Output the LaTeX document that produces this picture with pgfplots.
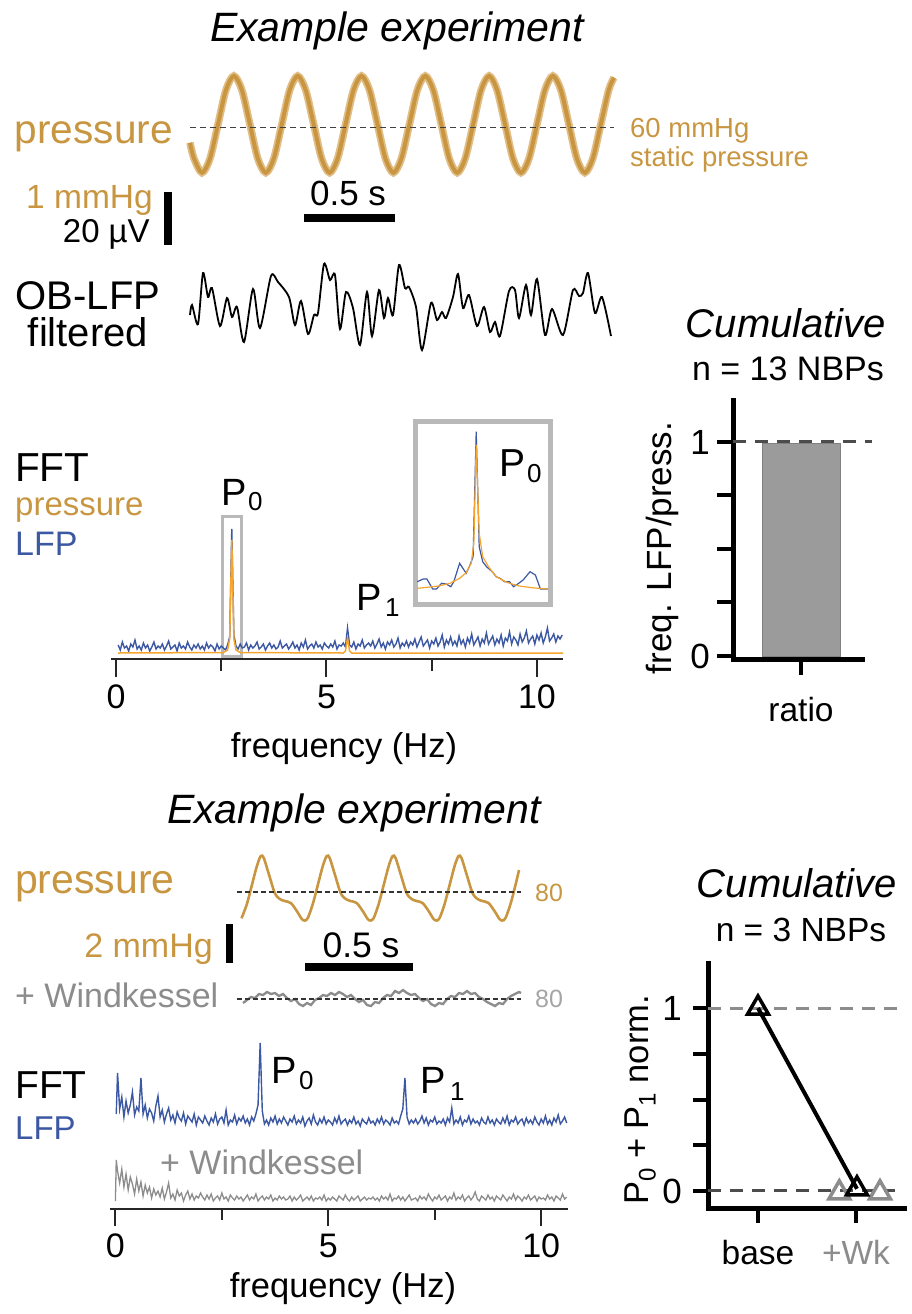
\documentclass[border=0pt]{standalone}
\usepackage{pgfplots}
\pgfplotsset{compat=1.18}
\usepackage{fontspec}
\setmainfont{Liberation Sans}
\definecolor{prtan}{RGB}{200,150,65}
\definecolor{prtanlight}{RGB}{225,190,135}
\definecolor{orng}{RGB}{245,165,45}
\definecolor{lfpblue}{RGB}{60,88,162}
\definecolor{wkgray}{RGB}{140,140,140}
\definecolor{wklight}{RGB}{165,165,165}
\definecolor{boxgray}{RGB}{185,185,185}
\definecolor{bargray}{RGB}{155,155,155}
\newcommand{\fs}[1]{\fontsize{#1}{#1}\selectfont}
\tikzset{lbl/.style={inner sep=0pt, anchor=base west}}
\pgfplotsset{/pgf/number format/assume math mode=true}
\begin{document}
\begin{tikzpicture}
\useasboundingbox (0,0) rectangle (912pt,-1314pt);

% ---------- overlay axis in pixel units (traces, scale bars, inset) ----------
\begin{axis}[at={(0pt,-1314pt)}, anchor=south west, width=912pt, height=1314pt,
  scale only axis, xmin=0, xmax=912, ymin=0, ymax=1314, y dir=reverse,
  hide axis, clip=false]
% top pressure trace
\addplot[prtanlight, line width=7.5pt, smooth] coordinates {
(190,142.7)(194.0,158.5)(202,172.7)(210.0,158.5)(218.0,124.3)(225.9,90.1)(233.9,75.9)(241.9,90.1)(249.9,124.3)(257.8,158.5)
(265.8,172.7)(273.8,158.5)(281.8,124.3)(289.7,90.1)(297.7,75.9)(305.7,90.1)(313.7,124.3)(321.6,158.5)
(329.6,172.7)(337.6,158.5)(345.6,124.3)(353.5,90.1)(361.5,75.9)(369.5,90.1)(377.5,124.3)(385.4,158.5)
(393.4,172.7)(401.4,158.5)(409.4,124.3)(417.3,90.1)(425.3,75.9)(433.3,90.1)(441.3,124.3)(449.2,158.5)
(457.2,172.7)(465.2,158.5)(473.2,124.3)(481.1,90.1)(489.1,75.9)(497.1,90.1)(505.1,124.3)(513.0,158.5)
(521.0,172.7)(529.0,158.5)(537.0,124.3)(544.9,90.1)(552.9,75.9)(560.9,90.1)(568.9,124.3)(576.8,158.5)
(584.8,172.7)(592.8,158.5)(600.8,124.3)(608.7,90.1)(614,77.6)};
\addplot[prtan, line width=4pt, smooth] coordinates {
(190,142.7)(194.0,158.5)(202,172.7)(210.0,158.5)(218.0,124.3)(225.9,90.1)(233.9,75.9)(241.9,90.1)(249.9,124.3)(257.8,158.5)
(265.8,172.7)(273.8,158.5)(281.8,124.3)(289.7,90.1)(297.7,75.9)(305.7,90.1)(313.7,124.3)(321.6,158.5)
(329.6,172.7)(337.6,158.5)(345.6,124.3)(353.5,90.1)(361.5,75.9)(369.5,90.1)(377.5,124.3)(385.4,158.5)
(393.4,172.7)(401.4,158.5)(409.4,124.3)(417.3,90.1)(425.3,75.9)(433.3,90.1)(441.3,124.3)(449.2,158.5)
(457.2,172.7)(465.2,158.5)(473.2,124.3)(481.1,90.1)(489.1,75.9)(497.1,90.1)(505.1,124.3)(513.0,158.5)
(521.0,172.7)(529.0,158.5)(537.0,124.3)(544.9,90.1)(552.9,75.9)(560.9,90.1)(568.9,124.3)(576.8,158.5)
(584.8,172.7)(592.8,158.5)(600.8,124.3)(608.7,90.1)(614,77.6)};
\addplot[black!75, line width=1.5pt, dash pattern=on 6pt off 4pt] coordinates {(190,127.5)(614,127.5)};
% scale bars top
\addplot[black, line width=8pt] coordinates {(167.5,192)(167.5,245)};
\addplot[black, line width=8pt] coordinates {(304,218)(395,218)};
% OB-LFP filtered trace
\addplot[black, line width=1.8pt, smooth, tension=0.45] coordinates {
(190,315)(192,305)(198,324)(203,273)(208,297)(212,288)(220,326)(227,298)(232,317)(237,307)
(244,342)(253,289)(260,328)(271,276)(278,282)(289,297)(295,325)(301,301)(308,334)(314,315)
(318,313)(324,264)(330,280)(335,275)(340,329)(346,292)(353,308)(360,345)(367,292)(372,336)
(379,290)(384,318)(388,298)(393,315)(399,265)(405,288)(409,287)(416,307)(422,350)(431,303)
(437,320)(442,312)(446,318)(453,297)(458,274)(463,308)(469,295)(477,326)(484,307)(490,332)
(495,322)(500,336)(509,291)(515,290)(519,318)(526,285)(531,315)(537,279)(545,335)(552,309)
(563,335)(573,290)(579,296)(583,293)(588,273)(595,313)(602,297)(611,336)};
% inset box and curves
\draw[boxgray, line width=5pt] (axis cs:415,421) rectangle (axis cs:550,604);
\addplot[lfpblue, line width=1.2pt] coordinates {
(417.3,581.7)(423.1,579)(426.9,579)(432.7,589)(436.5,589)(441.5,583.3)(446.2,584)(450.8,586.7)
(453.8,581.7)(459.6,563.3)(466.2,573.3)(470,565)(473.1,556.7)(476.2,431.7)(479.2,546.7)(482.7,561.7)
(486.5,566.7)(492.3,571.7)(496.2,576.7)(500,578.3)(504.6,581.7)(509.6,581.7)(513.5,586.7)(517.3,584.3)
(523.1,580)(530,571.7)(535.4,575)(540.4,589)(548.1,589)};
\addplot[orng, line width=1.2pt] coordinates {
(417.3,588.3)(426.9,587.3)(438.5,586)(450,583.3)(459.6,578.3)(466.2,572.7)(471.2,563.3)(473.8,543.3)
(476.2,445)(479.2,533.3)(482.7,556.7)(488.5,566.7)(496.2,576.7)(507.7,582.7)(519.2,586)(534.6,588)(548.1,589)};
% bottom pressure trace
\addplot[prtan, line width=2.6pt, smooth, tension=0.5] coordinates {
(241.5,918.3)(246.9,904)(251.9,885)(256.9,866)
(260.8,856)(263.8,858)(268.8,874)(274.8,893)(279.8,899)(284.8,901)(290.8,903)(296.8,911)(301.8,919)(304.8,920.5)(307.8,918)(312.8,904)(317.8,885)(322.8,866)
(326.7,856)(329.7,858)(334.7,874)(340.7,893)(345.7,899)(350.7,901)(356.7,903)(362.7,911)(367.7,919)(370.7,920.5)(373.7,918)(378.7,904)(383.7,885)(388.7,866)
(392.6,856)(395.6,858)(400.6,874)(406.6,893)(411.6,899)(416.6,901)(422.6,903)(428.6,911)(433.6,919)(436.6,920.5)(439.6,918)(444.6,904)(449.6,885)(454.6,866)
(458.5,856)(461.5,858)(466.5,874)(472.5,893)(477.5,899)(482.5,901)(488.5,903)(494.5,911)(499.5,919)(502.5,920.5)(505.5,918)(510.5,904)(515.5,885)(519,870)};
\addplot[black!80, line width=1.2pt, dash pattern=on 5pt off 3pt] coordinates {(236.5,892)(521,892)};
% bottom scale bars
\addplot[black, line width=7pt] coordinates {(229,924)(229,963)};
\addplot[black, line width=8pt] coordinates {(305,967)(413,967)};
% Windkessel trace
\addplot[wkgray, line width=2.3pt] coordinates {
(243,1003)(247,1000)(251,997)(255,998)(259,994)(263,995)(267,992)(271,994)(275,993)(279,996)
(283,994)(287,998)(291,1001)(295,999)(299,1004)(303,1006)(307,1003)(311,1005)(315,1000)(319,998)
(323,995)(327,996)(331,993)(335,995)(339,992)(343,994)(347,997)(351,995)(355,999)(359,1002)
(363,1000)(367,1005)(371,1006)(375,1002)(379,1003)(383,998)(387,995)(391,996)(395,991)(399,993)
(403,990)(407,993)(411,995)(415,994)(419,998)(423,1001)(427,999)(431,1004)(435,1006)(439,1003)
(443,1004)(447,999)(451,996)(455,997)(459,993)(463,994)(467,991)(471,994)(475,993)(479,997)
(483,999)(487,1002)(491,1004)(495,1006)(499,1003)(503,1004)(507,999)(511,996)(515,994)(519,992)(521,993)};
\addplot[black!80, line width=1.2pt, dash pattern=on 5pt off 3pt] coordinates {(236.5,999)(521,999)};
\end{axis}

% ---------- top FFT ----------
\begin{axis}[at={(111pt,-659pt)}, anchor=south west, width=452pt, height=239pt,
  scale only axis, xmin=-0.12, xmax=10.62, ymin=0, ymax=239,
  axis x line*=bottom, axis y line=none, ytick=\empty,
  axis line style={-, line width=2pt, black!85},
  xtick={0,5,10}, minor xtick={2.5,7.5}, tick align=outside,
  major tick length=18pt, minor tick length=12pt,
  tick style={line width=2pt, black!85},
  xticklabel style={font=\fs{34}, inner sep=0pt, yshift=-8pt},
  xlabel={frequency (Hz)},
  xlabel style={at={(axis description cs:0.5155,0)}, anchor=base, yshift=-98pt, font=\fs{34.5}, inner sep=0pt},
  clip=false]
\draw[boxgray, line width=3pt] (axis cs:2.52,3) rectangle (axis cs:2.99,143);
\addplot[lfpblue, line width=1.4pt] coordinates {
(0.05,14)(0.10,9)(0.15,17)(0.20,11)(0.25,13)(0.30,8)(0.35,15)(0.40,12)(0.45,19)(0.50,10)(0.55,13)(0.60,9)(0.65,16)(0.70,11)(0.75,14)(0.80,8)(0.85,12)(0.90,17)(0.95,10)(1.00,13)
(1.05,11)(1.10,15)(1.15,9)(1.20,13)(1.25,18)(1.30,10)(1.35,12)(1.40,14)(1.45,8)(1.50,16)(1.55,11)(1.60,13)(1.65,10)(1.70,17)(1.75,12)(1.80,9)(1.85,14)(1.90,11)(1.95,15)(2.00,10)
(2.05,13)(2.10,9)(2.15,16)(2.20,11)(2.25,14)(2.30,12)(2.35,8)(2.40,15)(2.45,10)(2.50,13)(2.55,11)(2.60,9)(2.65,14)(2.70,22)(2.75,130)(2.80,24)(2.85,13)(2.90,10)(2.95,15)(3.00,11)
(3.05,12)(3.10,16)(3.15,9)(3.20,14)(3.25,11)(3.30,13)(3.35,17)(3.40,10)(3.45,12)(3.50,15)(3.55,9)(3.60,13)(3.65,16)(3.70,11)(3.75,14)(3.80,10)(3.85,12)(3.90,18)(3.95,11)(4.00,13)
(4.05,15)(4.10,10)(4.15,13)(4.20,17)(4.25,11)(4.30,14)(4.35,9)(4.40,16)(4.45,12)(4.50,19)(4.55,10)(4.60,13)(4.65,15)(4.70,11)(4.75,17)(4.80,12)(4.85,14)(4.90,10)(4.95,16)(5.00,13)
(5.05,11)(5.10,15)(5.15,12)(5.20,18)(5.25,10)(5.30,14)(5.35,13)(5.40,16)(5.45,12)(5.50,31)(5.55,14)(5.60,12)(5.65,17)(5.70,10)(5.75,15)(5.80,13)(5.85,19)(5.90,11)(5.95,14)(6.00,16)
(6.05,13)(6.10,18)(6.15,11)(6.20,15)(6.25,20)(6.30,12)(6.35,16)(6.40,10)(6.45,17)(6.50,14)(6.55,19)(6.60,12)(6.65,15)(6.70,21)(6.75,11)(6.80,16)(6.85,13)(6.90,18)(6.95,12)(7.00,17)
(7.05,14)(7.10,20)(7.15,12)(7.20,17)(7.25,22)(7.30,13)(7.35,16)(7.40,19)(7.45,11)(7.50,18)(7.55,15)(7.60,21)(7.65,13)(7.70,17)(7.75,24)(7.80,12)(7.85,19)(7.90,15)(7.95,22)(8.00,14)
(8.05,18)(8.10,13)(8.15,23)(8.20,15)(8.25,19)(8.30,12)(8.35,21)(8.40,16)(8.45,25)(8.50,14)(8.55,18)(8.60,22)(8.65,13)(8.70,20)(8.75,16)(8.80,26)(8.85,15)(8.90,19)(8.95,23)(9.00,14)
(9.05,20)(9.10,16)(9.15,24)(9.20,13)(9.25,21)(9.30,18)(9.35,27)(9.40,15)(9.45,22)(9.50,19)(9.55,14)(9.60,25)(9.65,17)(9.70,21)(9.75,28)(9.80,16)(9.85,20)(9.90,23)(9.95,15)(10.00,24)
(10.05,19)(10.10,26)(10.15,16)(10.20,22)(10.25,31)(10.30,18)(10.35,21)(10.40,25)(10.45,17)(10.50,23)(10.55,20)(10.60,24)};
\addplot[orng, line width=1.5pt] coordinates {
(0.05,6)(2.55,6.5)(2.65,9)(2.70,20)(2.75,119)(2.80,20)(2.85,9)(2.95,6.5)(5.40,6)(5.45,8)(5.50,21)(5.55,8)(5.60,6)(10.62,6)};
\end{axis}

% ---------- top right bar chart ----------
\begin{axis}[at={(733pt,-659pt)}, anchor=south west, width=129pt, height=259pt,
  scale only axis, xmin=0.128, xmax=1.782, ymin=-0.014, ymax=1.196,
  axis lines=left, axis line style={-, line width=5pt, line cap=rect},
  ytick={0,0.25,0.5,0.75,1}, yticklabels={0,,,,1},
  xtick={1}, xticklabels={ratio},
  tick align=outside, major tick length=16pt,
  tick style={line width=4pt, black},
  yticklabel style={font=\fs{35}, inner sep=0pt, xshift=-7pt},
  xticklabel style={font=\fs{33.5}, inner sep=0pt, yshift=-22pt},
  clip=false]
\addplot[ybar, bar width=78pt, fill=bargray, draw=black!50, line width=0.8pt] coordinates {(1,0.995)};
\draw[black!70, line width=3pt, dash pattern=on 13pt off 9pt] (axis cs:0.128,1) -- (axis cs:1.91,1);
\end{axis}

% ---------- bottom FFT ----------
\begin{axis}[at={(110pt,-1209pt)}, anchor=south west, width=458pt, height=179pt,
  scale only axis, xmin=-0.127, xmax=10.63, ymin=0, ymax=179,
  axis x line*=bottom, axis y line=none, ytick=\empty,
  axis line style={-, line width=2pt, black!85},
  xtick={0,5,10}, minor xtick={2.5,7.5}, tick align=outside,
  major tick length=17pt, minor tick length=11pt,
  tick style={line width=2pt, black!85},
  xticklabel style={font=\fs{34}, inner sep=0pt, yshift=-8pt},
  xlabel={frequency (Hz)},
  xlabel style={at={(axis description cs:0.5087,0)}, anchor=base, yshift=-88pt, font=\fs{34.5}, inner sep=0pt},
  clip=false]
\addplot[lfpblue, line width=1.4pt] coordinates {
(0.02,95)(0.05,136)(0.10,100)(0.15,112)(0.20,92)(0.25,108)(0.30,96)(0.35,104)(0.40,117)(0.45,94)(0.50,102)(0.55,98)(0.60,131)(0.65,95)(0.70,104)(0.75,91)(0.80,100)(0.85,96)(0.90,88)(0.95,103)(1.00,113)
(1.05,92)(1.10,99)(1.15,87)(1.20,95)(1.25,101)(1.30,89)(1.35,94)(1.40,86)(1.45,97)(1.50,91)(1.55,88)(1.60,96)(1.65,85)(1.70,93)(1.75,90)(1.80,87)(1.85,95)(1.90,84)(1.95,92)(2.00,89)
(2.05,86)(2.10,93)(2.15,88)(2.20,84)(2.25,91)(2.30,87)(2.35,95)(2.40,85)(2.45,90)(2.50,92)(2.55,86)(2.60,99)(2.65,84)(2.70,89)(2.75,87)(2.80,94)(2.85,85)(2.90,91)(2.95,88)(3.00,93)
(3.05,86)(3.10,90)(3.15,84)(3.20,92)(3.25,88)(3.30,95)(3.35,104)(3.40,166)(3.45,98)(3.50,85)(3.55,89)(3.60,84)(3.65,91)(3.70,87)(3.75,93)(3.80,85)(3.85,90)(3.90,86)(3.95,92)(4.00,88)
(4.05,84)(4.10,90)(4.15,87)(4.20,93)(4.25,85)(4.30,89)(4.35,86)(4.40,92)(4.45,83)(4.50,88)(4.55,91)(4.60,85)(4.65,94)(4.70,87)(4.75,84)(4.80,90)(4.85,86)(4.90,92)(4.95,85)(5.00,89)
(5.05,87)(5.10,84)(5.15,91)(5.20,86)(5.25,93)(5.30,85)(5.35,88)(5.40,90)(5.45,84)(5.50,89)(5.55,86)(5.60,92)(5.65,85)(5.70,88)(5.75,83)(5.80,90)(5.85,87)(5.90,85)(5.95,91)(6.00,86)
(6.05,88)(6.10,84)(6.15,90)(6.20,86)(6.25,92)(6.30,85)(6.35,89)(6.40,87)(6.45,84)(6.50,91)(6.55,86)(6.60,88)(6.65,85)(6.70,93)(6.75,100)(6.80,131)(6.85,92)(6.90,85)(6.95,89)(7.00,86)
(7.05,90)(7.10,85)(7.15,88)(7.20,93)(7.25,86)(7.30,91)(7.35,84)(7.40,89)(7.45,87)(7.50,92)(7.55,85)(7.60,88)(7.65,86)(7.70,90)(7.75,84)(7.80,91)(7.85,87)(7.90,101)(7.95,85)(8.00,89)
(8.05,86)(8.10,92)(8.15,84)(8.20,89)(8.25,87)(8.30,93)(8.35,85)(8.40,90)(8.45,86)(8.50,88)(8.55,84)(8.60,91)(8.65,87)(8.70,85)(8.75,92)(8.80,86)(8.85,89)(8.90,84)(8.95,90)(9.00,87)
(9.05,85)(9.10,91)(9.15,86)(9.20,93)(9.25,84)(9.30,89)(9.35,87)(9.40,92)(9.45,85)(9.50,88)(9.55,90)(9.60,84)(9.65,91)(9.70,86)(9.75,89)(9.80,85)(9.85,92)(9.90,87)(9.95,84)(10.00,90)
(10.05,86)(10.10,93)(10.15,85)(10.20,89)(10.25,84)(10.30,91)(10.35,87)(10.40,94)(10.45,85)(10.50,88)(10.55,92)(10.60,86)};
\addplot[wkgray, line width=1.3pt] coordinates {
(0.00,8)(0.02,49)(0.05,38)(0.10,26)(0.15,40)(0.20,22)(0.25,35)(0.30,19)(0.35,32)(0.40,25)(0.45,15)(0.50,30)(0.55,18)(0.60,27)(0.65,13)(0.70,24)(0.75,16)(0.80,22)(0.85,11)(0.90,20)(0.95,14)(1.00,18)
(1.05,12)(1.10,21)(1.15,10)(1.20,17)(1.25,26)(1.30,11)(1.35,15)(1.40,9)(1.45,19)(1.50,13)(1.55,16)(1.60,8)(1.65,14)(1.70,18)(1.75,10)(1.80,15)(1.85,9)(1.90,13)(1.95,11)(2.00,16)
(2.05,12)(2.10,9)(2.15,14)(2.20,10)(2.25,15)(2.30,8)(2.35,11)(2.40,13)(2.45,9)(2.50,16)(2.55,10)(2.60,12)(2.65,8)(2.70,14)(2.75,11)(2.80,9)(2.85,13)(2.90,10)(2.95,12)(3.00,8)
(3.05,11)(3.10,14)(3.15,9)(3.20,12)(3.25,10)(3.30,15)(3.35,8)(3.40,11)(3.45,13)(3.50,9)(3.55,12)(3.60,10)(3.65,14)(3.70,8)(3.75,11)(3.80,9)(3.85,13)(3.90,10)(3.95,12)(4.00,9)
(4.05,10)(4.10,13)(4.15,8)(4.20,12)(4.25,9)(4.30,11)(4.35,14)(4.40,8)(4.45,10)(4.50,12)(4.55,9)(4.60,13)(4.65,8)(4.70,11)(4.75,10)(4.80,12)(4.85,9)(4.90,14)(4.95,8)(5.00,11)
(5.05,9)(5.10,12)(5.15,10)(5.20,8)(5.25,13)(5.30,11)(5.35,9)(5.40,14)(5.45,10)(5.50,8)(5.55,12)(5.60,9)(5.65,11)(5.70,13)(5.75,8)(5.80,10)(5.85,12)(5.90,9)(5.95,11)(6.00,10)
(6.05,12)(6.10,9)(6.15,11)(6.20,8)(6.25,13)(6.30,10)(6.35,12)(6.40,9)(6.45,15)(6.50,8)(6.55,11)(6.60,10)(6.65,13)(6.70,9)(6.75,12)(6.80,8)(6.85,11)(6.90,14)(6.95,9)(7.00,10)
(7.05,11)(7.10,8)(7.15,13)(7.20,10)(7.25,12)(7.30,9)(7.35,15)(7.40,11)(7.45,8)(7.50,12)(7.55,10)(7.60,14)(7.65,9)(7.70,11)(7.75,13)(7.80,8)(7.85,12)(7.90,10)(7.95,16)(8.00,9)
(8.05,12)(8.10,10)(8.15,14)(8.20,8)(8.25,11)(8.30,13)(8.35,9)(8.40,12)(8.45,17)(8.50,10)(8.55,8)(8.60,13)(8.65,11)(8.70,9)(8.75,14)(8.80,10)(8.85,12)(8.90,8)(8.95,13)(9.00,11)
(9.05,9)(9.10,14)(9.15,11)(9.20,8)(9.25,12)(9.30,10)(9.35,15)(9.40,9)(9.45,13)(9.50,11)(9.55,8)(9.60,12)(9.65,10)(9.70,14)(9.75,9)(9.80,11)(9.85,13)(9.90,8)(9.95,12)(10.00,10)
(10.05,11)(10.10,9)(10.15,14)(10.20,10)(10.25,12)(10.30,8)(10.35,13)(10.40,11)(10.45,9)(10.50,15)(10.55,10)(10.60,12)};
\end{axis}

% ---------- bottom right ----------
\begin{axis}[at={(708pt,-1208pt)}, anchor=south west, width=196pt, height=245pt,
  scale only axis, xmin=-0.51, xmax=1.49, ymin=-0.093, ymax=1.246,
  axis lines=left, axis line style={-, line width=5pt, line cap=rect},
  ytick={0,0.25,0.5,0.75,1}, yticklabels={0,,,,1},
  xtick={0,1}, xticklabels={base,{\color{wkgray}+Wk}},
  tick align=outside, major tick length=15pt,
  tick style={line width=4pt, black},
  yticklabel style={font=\fs{35}, inner sep=0pt, xshift=-11pt},
  xticklabel style={font=\fs{33.5}, inner sep=0pt, yshift=-17pt},
  clip=false]
\draw[wkgray, line width=3pt, dash pattern=on 13pt off 9pt] (axis cs:-0.51,1) -- (axis cs:1.45,1);
\draw[black!70, line width=3pt, dash pattern=on 13pt off 9pt] (axis cs:-0.51,0) -- (axis cs:1.40,0);
\addplot[only marks, mark=triangle, mark size=12pt, mark options={draw=wkgray, fill=white, line width=3.5pt}] coordinates {(0.83,-0.01)(1.245,-0.01)};
\addplot[black, line width=4pt, mark=triangle, mark size=12pt, mark options={draw=black, fill=white, line width=3.5pt, solid}] coordinates {(0,1.0)(1.01,0.012)};
\end{axis}

% ---------- text ----------
\node[lbl, anchor=base] at (397pt,-42pt) {\fs{41}\itshape Example experiment};
\node[lbl, anchor=base east, text=prtan] at (173pt,-143pt) {\fs{40.6}pressure};
\node[lbl, text=prtan] at (630pt,-137pt) {\fs{27.5}60 mmHg};
\node[lbl, text=prtan] at (630pt,-166pt) {\fs{27.5}static pressure};
\node[lbl, anchor=base east, text=prtan] at (153pt,-208pt) {\fs{33.5}1 mmHg};
\node[lbl, anchor=base east] at (150pt,-242pt) {\fs{33}20 µV};
\node[lbl, anchor=base] at (348pt,-205pt) {\fs{35}0.5 s};
\node[lbl, anchor=base] at (88pt,-309pt) {\fs{40}OB-LFP};
\node[lbl, anchor=base] at (88pt,-346pt) {\fs{40}filtered};

\node[lbl] at (15pt,-481pt) {\fs{40.5}FFT};
\node[lbl, text=prtan] at (15pt,-515pt) {\fs{33}pressure};
\node[lbl, text=lfpblue] at (15pt,-555pt) {\fs{34}LFP};
\node[lbl] at (221pt,-505pt) {\fs{38}P};
\node[lbl] at (248pt,-510pt) {\fs{26}0};
\node[lbl] at (356pt,-610pt) {\fs{38}P};
\node[lbl] at (385pt,-616pt) {\fs{26}1};
\node[lbl] at (499pt,-476pt) {\fs{39}P};
\node[lbl] at (527pt,-482pt) {\fs{26}0};

\node[lbl, anchor=base] at (786pt,-337pt) {\fs{40}\itshape Cumulative};
\node[lbl, anchor=base] at (788pt,-380pt) {\fs{34}n = 13 NBPs};
\node[lbl, anchor=base, rotate=90] at (671pt,-548pt) {\fs{35}freq. LFP/press.};

\node[lbl, anchor=base] at (354pt,-823pt) {\fs{41}\itshape Example experiment};
\node[lbl, text=prtan] at (15pt,-893pt) {\fs{41}pressure};
\node[lbl, text=prtan] at (535pt,-901pt) {\fs{25}80};
\node[lbl, anchor=base east, text=prtan] at (213pt,-957pt) {\fs{34}2 mmHg};
\node[lbl, anchor=base] at (361pt,-957pt) {\fs{35.5}0.5 s};
\node[lbl, text=wkgray] at (15pt,-1007pt) {\fs{34}+ Windkessel};
\node[lbl, text=wklight] at (535pt,-1007pt) {\fs{25}80};

\node[lbl] at (15pt,-1098pt) {\fs{39}FFT};
\node[lbl, text=lfpblue] at (15pt,-1139pt) {\fs{33}LFP};
\node[lbl, text=wkgray] at (160pt,-1174pt) {\fs{34}+ Windkessel};
\node[lbl] at (271pt,-1083pt) {\fs{38}P};
\node[lbl] at (299pt,-1089pt) {\fs{26}0};
\node[lbl] at (420pt,-1093pt) {\fs{38}P};
\node[lbl] at (450pt,-1100pt) {\fs{26}1};

\node[lbl, anchor=base] at (797pt,-897pt) {\fs{40}\itshape Cumulative};
\node[lbl, anchor=base] at (801pt,-941pt) {\fs{33.5}n = 3 NBPs};
\node[lbl, anchor=base, rotate=90] at (648pt,-1100pt) {\fs{34.5}P\raisebox{-0.22em}{\fs{24}0} + P\raisebox{-0.22em}{\fs{24}1} norm.};
\end{tikzpicture}
\end{document}
